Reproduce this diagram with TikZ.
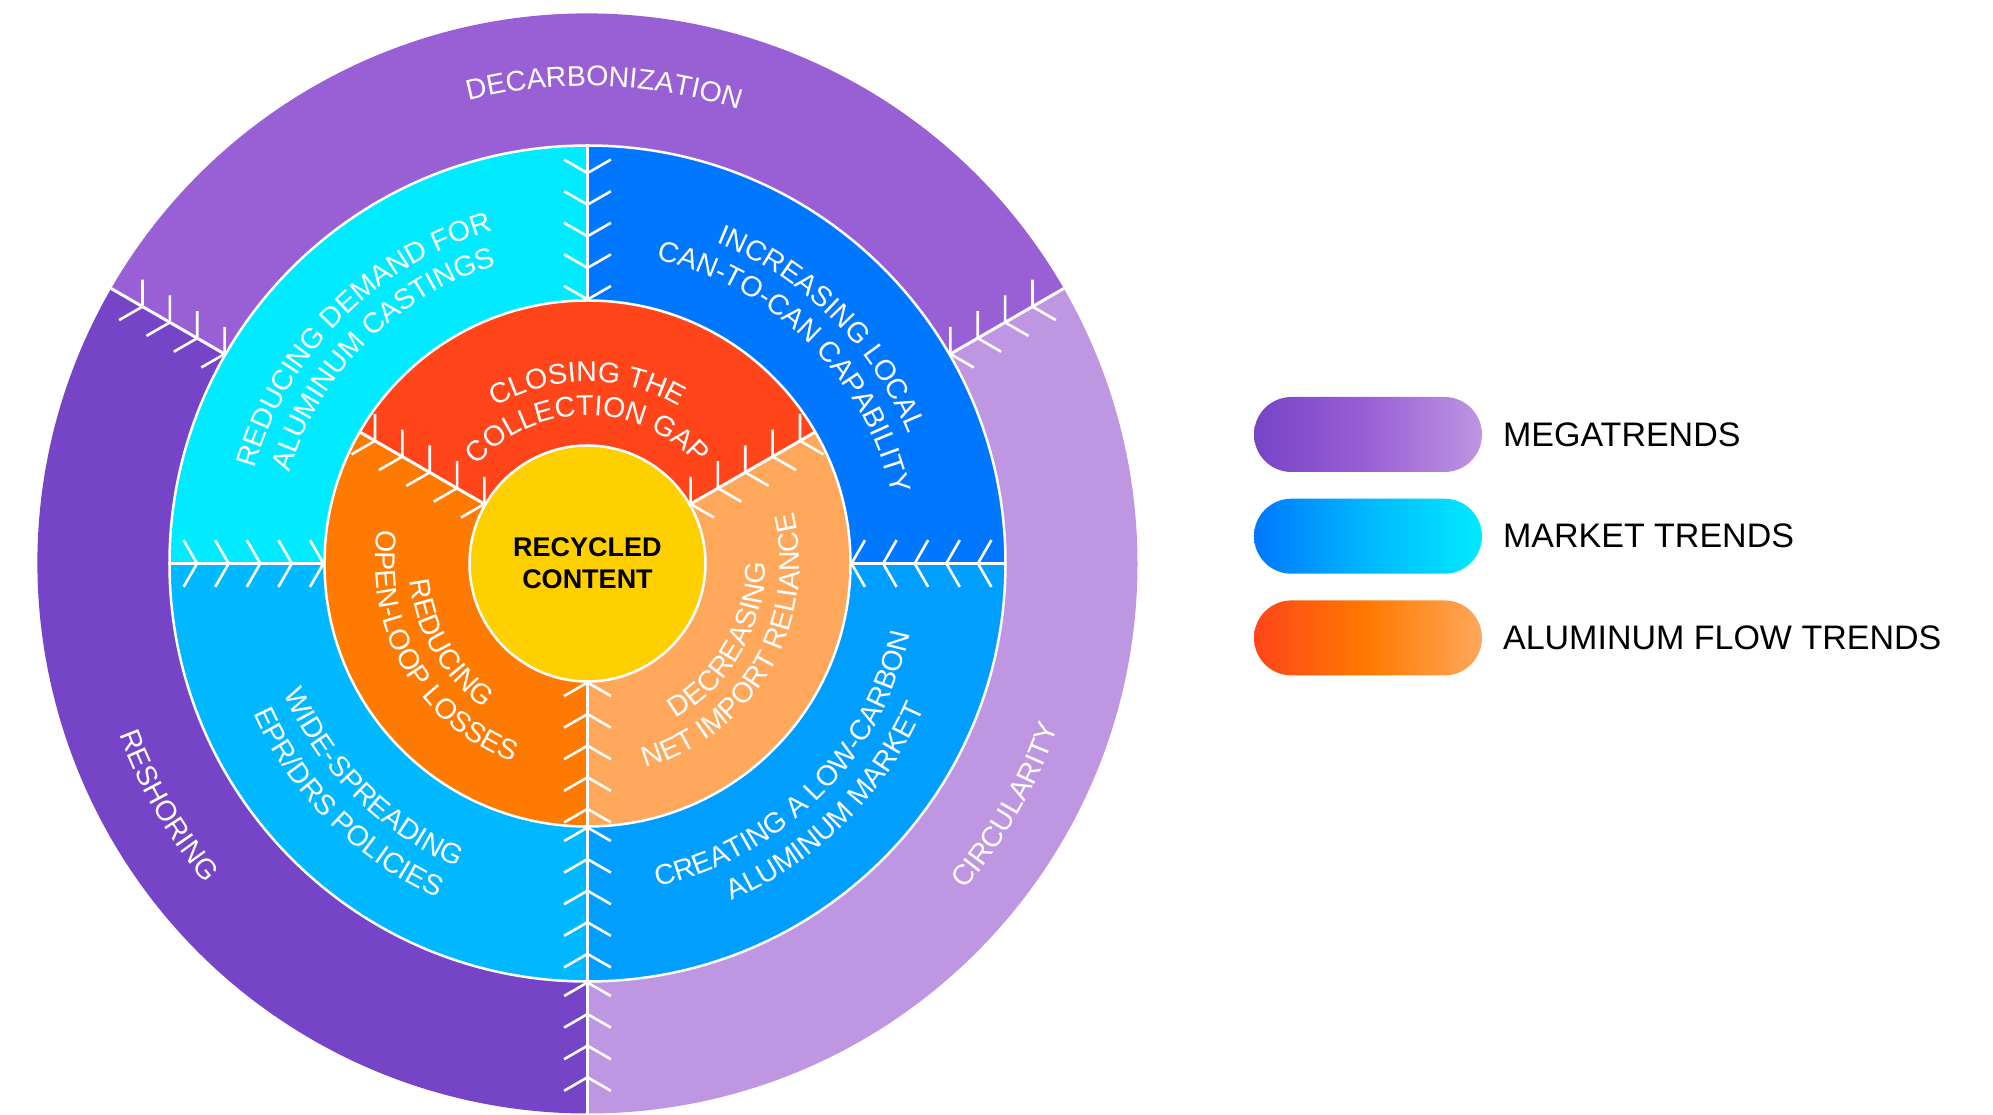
\documentclass[tikz,border=0pt]{standalone}
\usepackage{fontspec}
\setmainfont{Liberation Sans}
\usepackage{xcolor}
\usepackage{tikz}
\usetikzlibrary{positioning,decorations.text}

\definecolor{megaTop}{HTML}{9960D5}
\definecolor{megaLeft}{HTML}{7644C7}
\definecolor{megaRight}{HTML}{BE96E2}
\definecolor{marketTL}{HTML}{00EBFF}
\definecolor{marketTR}{HTML}{0077FF}
\definecolor{marketBL}{HTML}{00B8FF}
\definecolor{marketBR}{HTML}{009EFF}
\definecolor{aluTop}{HTML}{FF4519}
\definecolor{aluLeft}{HTML}{FF7A00}
\definecolor{aluRight}{HTML}{FFA85C}
\definecolor{coreYellow}{HTML}{FFD000}
\newcommand{\ringfont}{\fontsize{28.5}{34}\selectfont}

\begin{document}
\begin{tikzpicture}[x=1pt,y=1pt,
  seam/.style={draw=white,line width=2.5pt},
  divider/.style={draw=white,line width=3pt},
  chevron/.style={draw=white,line width=2.6pt},
  core/.style={circle,fill=coreYellow,draw=white,line width=2.5pt,minimum size=236pt,
    inner sep=0pt,align=center,text=black,font=\bfseries\fontsize{27}{32.3}\selectfont},
  ringlabel/.style={decorate,decoration={text along path,text align=center,
    text color=white,text={|\ringfont|#1}}},
  pill/.style={minimum width=228pt,minimum height=75pt,rounded corners=37.5pt,inner sep=0pt},
  keytext/.style={inner sep=0pt,font=\fontsize{34}{40}\selectfont}]
\useasboundingbox (-587.5,-551.5) rectangle (1405.5,563.5);

\foreach \from/\to/\col in {30/150/megaTop,150/270/megaLeft,-90/30/megaRight}
  \fill[\col] (0,0) -- (\from:550) arc[start angle=\from,end angle=\to,radius=550pt] -- cycle;
\foreach \from/\to/\col in {0/90/marketTR,90/180/marketTL,180/270/marketBL,270/360/marketBR}
  \fill[\col] (0,0) -- (\from:418) arc[start angle=\from,end angle=\to,radius=418pt] -- cycle;
\foreach \from/\to/\col in {30/150/aluTop,150/270/aluLeft,-90/30/aluRight}
  \fill[\col] (0,0) -- (\from:263) arc[start angle=\from,end angle=\to,radius=263pt] -- cycle;
\draw[seam] (0,0) circle[radius=418pt];
\draw[seam] (0,0) circle[radius=263pt];

\foreach \a/\rin/\rout/\n in {30/418/550/3,150/418/550/3,270/418/550/3,
    0/263/418/4,90/263/418/4,180/263/418/4,270/263/418/4,
    30/118/263/4,150/118/263/4,270/118/263/4}{
  \draw[divider] (\a:\rin) -- (\a:\rout);
  \foreach \k in {0,...,\n}{
    \pgfmathsetmacro\r{\rin+1+31.6*\k}
    \draw[chevron] (\a:\r) ++(\a+60:27) -- (\a:\r) -- ++(\a-60:27);
  }
}

\node[core] (core) at (0,0) {RECYCLED\\CONTENT};

\path[ringlabel=DECARBONIZATION] (178:477.8) arc[start angle=178,end angle=-2,radius=477.8pt];
\path[ringlabel=RESHORING] (120:498.2) arc[start angle=120,end angle=300,radius=498.2pt];
\path[ringlabel=CIRCULARITY] (240:498.2) arc[start angle=240,end angle=420,radius=498.2pt];

\path[ringlabel=REDUCING DEMAND FOR] (225:345.8) arc[start angle=225,end angle=45,radius=345.8pt];
\path[ringlabel=ALUMINUM CASTINGS] (225:311.8) arc[start angle=225,end angle=45,radius=311.8pt];
\path[ringlabel=INCREASING LOCAL] (135:345.8) arc[start angle=135,end angle=-45,radius=345.8pt];
\path[ringlabel=CAN-TO-CAN CAPABILITY] (135:311.8) arc[start angle=135,end angle=-45,radius=311.8pt];
\path[ringlabel=WIDE-SPREADING] (135:330.2) arc[start angle=135,end angle=315,radius=330.2pt];
\path[ringlabel=EPR/DRS POLICIES] (135:366.2) arc[start angle=135,end angle=315,radius=366.2pt];
\path[ringlabel=CREATING A LOW-CARBON] (225:330.2) arc[start angle=225,end angle=405,radius=330.2pt];
\path[ringlabel=ALUMINUM MARKET] (225:366.2) arc[start angle=225,end angle=405,radius=366.2pt];

\path[ringlabel=CLOSING THE] (180:181.8) arc[start angle=180,end angle=0,radius=181.8pt];
\path[ringlabel=COLLECTION GAP] (180:147.8) arc[start angle=180,end angle=0,radius=147.8pt];
\path[ringlabel=REDUCING] (120:178.2) arc[start angle=120,end angle=300,radius=178.2pt];
\path[ringlabel=OPEN-LOOP LOSSES] (120:212.2) arc[start angle=120,end angle=300,radius=212.2pt];
\path[ringlabel=DECREASING] (240:178.2) arc[start angle=240,end angle=420,radius=178.2pt];
\path[ringlabel=NET IMPORT RELIANCE] (240:212.2) arc[start angle=240,end angle=420,radius=212.2pt];

\node[pill,left color=megaLeft,right color=megaRight,middle color=megaTop] (megaKey) at (780.5,129) {};
\node[keytext,right=20.7pt of megaKey] (megaText) {MEGATRENDS};
\node[pill,left color=marketTR,right color=marketTL,middle color=marketBL,below=26.3pt of megaKey] (marketKey) {};
\node[keytext,right=20.7pt of marketKey] (marketText) {MARKET TRENDS};
\node[pill,left color=aluTop,right color=aluRight,middle color=aluLeft,below=26.3pt of marketKey] (aluKey) {};
\node[keytext,right=20.7pt of aluKey] (aluText) {ALUMINUM FLOW TRENDS};
\end{tikzpicture}
\end{document}
